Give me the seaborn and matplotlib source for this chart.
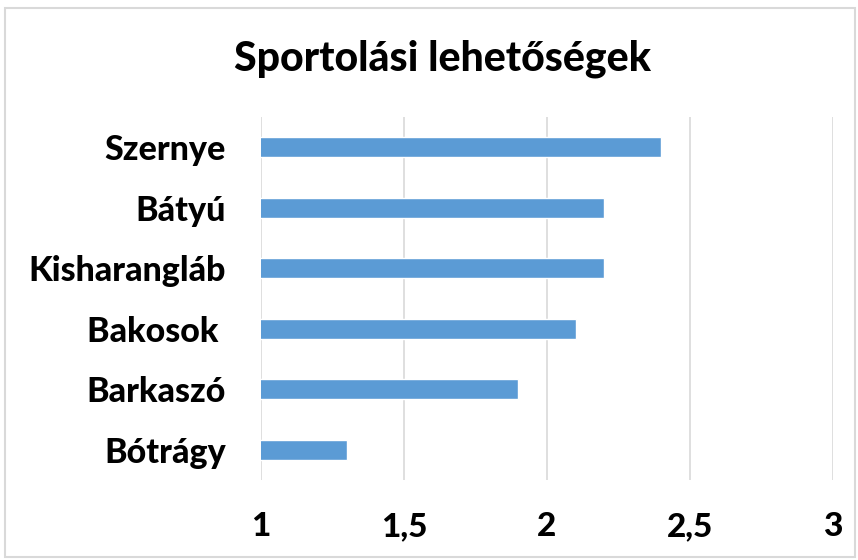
import matplotlib
matplotlib.use("Agg")
import matplotlib.pyplot as plt
import seaborn as sns
import pandas as pd
from matplotlib.patches import Rectangle

categories = ["Szernye", "Bátyú", "Kisharangláb", "Bakosok ", "Barkaszó", "Bótrágy"]
values = [2.4, 2.2, 2.2, 2.1, 1.9, 1.3]
xticks = [1, 1.5, 2, 2.5, 3]
xtick_labels = ["1", "1,5", "2", "2,5", "3"]
title = "Sportolási lehetőségek"

sns.set_theme(style="white")
plt.rcParams['font.family'] = ['Lato', 'DejaVu Sans']

df = pd.DataFrame({"cat": categories, "val": values})

fig = plt.figure(figsize=(8.58, 5.6), dpi=100)
ax = fig.add_axes([0.304, 0.143, 0.667, 0.648])

sns.barplot(data=df, y="cat", x="val", orient="h", color="#5B9BD5",
            saturation=1, width=0.33, ax=ax)
ax.set_xlim(1, 3)
ax.set_xticks(xticks)
ax.set_xticklabels(xtick_labels, fontsize=24, fontweight="black", color="black")
ax.tick_params(axis="x", length=0, pad=23)
ax.tick_params(axis="y", length=0, pad=25)
for lbl in ax.get_yticklabels():
    lbl.set_fontsize(24.5)
    lbl.set_fontweight("black")
    lbl.set_color("black")
ax.set_xlabel("")
ax.set_ylabel("")
ax.grid(axis="x", color="#D9D9D9", linewidth=1.2)
ax.set_axisbelow(True)
for s in ax.spines.values():
    s.set_visible(False)

fig.text(0.516, 0.895, title, ha="center", va="center", fontsize=29.5, fontweight="black", color="black")

fig.add_artist(Rectangle((0.006, 0.005), 0.99, 0.981, transform=fig.transFigure,
                         fill=False, edgecolor="#D9D9D9", linewidth=1.5))

fig.savefig("out.png", dpi=100)
